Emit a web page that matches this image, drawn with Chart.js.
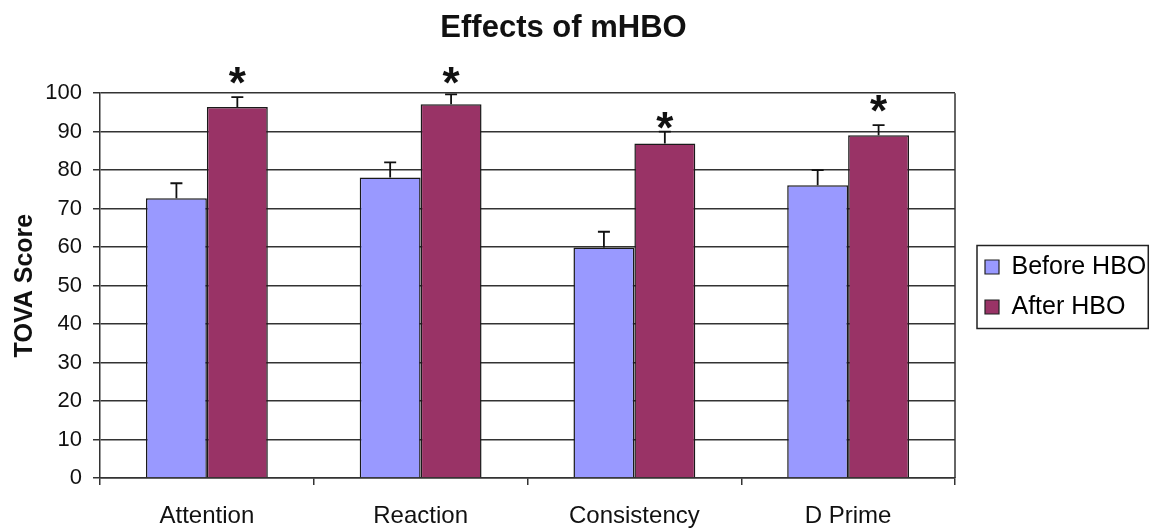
<!DOCTYPE html>
<html>
<head>
<meta charset="utf-8">
<script src="https://cdn.jsdelivr.net/npm/chart.js@4"></script>
<style>
  html, body { margin: 0; padding: 0; background: #fff; }
  #wrap { width: 1152px; height: 532px; }
</style>
</head>
<body>
<div id="wrap"><canvas id="chart"></canvas></div>
<script>
// Data
const categories = ['Attention', 'Reaction', 'Consistency', 'D Prime'];
const beforeHBO = [72.7, 78.1, 59.9, 76.1];
const afterHBO = [96.4, 97.1, 86.9, 89.1];
// upper end of the error bars
const beforeErrTop = [76.6, 82.0, 64.0, 80.0];
const afterErrTop = [99.0, 99.7, 90.0, 91.7];
// level (score units) where the significance star sits
const starLevel = [104.2, 104.2, 92.5, 96.9];
const yTicks = [0, 10, 20, 30, 40, 50, 60, 70, 80, 90, 100];

const FONT = 'Liberation Sans, Arial, sans-serif';
const LEGEND_WIDTH = 169;
const LEGEND_GAP = 15;
const LEGEND_DROP = 21;

// Error bars, stars, plot frame and legend border
const extrasPlugin = {
    id: 'extras',
    afterInit(chart) {
        // fixed legend width so the plot keeps its size
        const lg = chart.legend;
        const fit = lg.fit;
        lg.fit = function() {
            fit.call(this);
            this.width = LEGEND_WIDTH;
        };
    },
    afterLayout(chart) {
        // move the legend off the plot frame and down to the middle
        const lg = chart.legend;
        lg.left += LEGEND_GAP;
        lg.right = chart.width;
        lg.width = lg.right - lg.left;
        lg.top += LEGEND_DROP;
        lg.bottom += LEGEND_DROP;
    },
    afterDatasetsDraw(chart) {
        const ctx = chart.ctx;
        const y = chart.scales.y;
        const area = chart.chartArea;
        const errTops = [beforeErrTop, afterErrTop];

        ctx.save();
        // right frame line
        ctx.strokeStyle = '#333';
        ctx.lineWidth = 1.5;
        ctx.beginPath();
        ctx.moveTo(area.right, area.top);
        ctx.lineTo(area.right, area.bottom);
        ctx.stroke();

        // error bars
        ctx.strokeStyle = '#111';
        ctx.lineWidth = 1.8;
        chart.data.datasets.forEach((ds, i) => {
            const meta = chart.getDatasetMeta(i);
            meta.data.forEach((bar, j) => {
                const top = y.getPixelForValue(errTops[i][j]);
                ctx.beginPath();
                ctx.moveTo(bar.x, bar.y);
                ctx.lineTo(bar.x, top);
                ctx.moveTo(bar.x - 6, top);
                ctx.lineTo(bar.x + 6, top);
                ctx.stroke();
            });
        });

        // stars over the After bars
        const afterMeta = chart.getDatasetMeta(1);
        ctx.fillStyle = '#111';
        ctx.font = 'bold 44px ' + FONT;
        ctx.textAlign = 'center';
        ctx.textBaseline = 'middle';
        afterMeta.data.forEach((bar, j) => {
            ctx.fillText('*', bar.x, y.getPixelForValue(starLevel[j]) + 9);
        });

        ctx.restore();
    },
    afterDraw(chart) {
        const boxes = chart.legend && chart.legend.legendHitBoxes;
        if (!boxes || !boxes.length) return;
        const ctx = chart.ctx;
        const left = Math.min(...boxes.map(b => b.left)) - 8;
        const top = Math.min(...boxes.map(b => b.top)) - 9;
        const right = Math.max(...boxes.map(b => b.left + b.width)) + 2;
        const bottom = Math.max(...boxes.map(b => b.top + b.height)) + 9;
        ctx.save();
        ctx.strokeStyle = '#222';
        ctx.lineWidth = 1.5;
        ctx.strokeRect(left, top, right - left, bottom - top);
        ctx.restore();
    }
};

const ctx = document.getElementById('chart').getContext('2d');
window.hboChart = new Chart(ctx, {
    type: 'bar',
    data: {
        labels: categories,
        datasets: [
            {
                label: 'Before HBO',
                data: beforeHBO,
                backgroundColor: '#9999FF',
                borderColor: '#1a1a1a',
                borderWidth: 1.5
            },
            {
                label: 'After HBO',
                data: afterHBO,
                backgroundColor: '#993366',
                borderColor: '#1a1a1a',
                borderWidth: 1.5
            }
        ]
    },
    options: {
        responsive: true,
        maintainAspectRatio: false,
        animation: false,
        devicePixelRatio: 1,
        categoryPercentage: 0.57,
        barPercentage: 1.0,
        layout: {
            padding: { left: 3, right: 28, top: 0, bottom: 0 }
        },
        plugins: {
            title: {
                display: true,
                text: 'Effects of mHBO',
                color: '#111',
                font: { family: FONT, size: 31, weight: 'bold' },
                padding: { top: 10, bottom: 46 }
            },
            legend: {
                position: 'right',
                align: 'center',
                labels: {
                    color: '#111',
                    font: { family: FONT, size: 25 },
                    boxWidth: 14,
                    boxHeight: 14,
                    padding: 15,
                    generateLabels(chart) {
                        return chart.data.datasets.map((ds, i) => ({
                            text: ds.label,
                            fillStyle: ds.backgroundColor,
                            strokeStyle: '#222',
                            lineWidth: 1.2,
                            datasetIndex: i
                        }));
                    }
                }
            },
            tooltip: { enabled: false }
        },
        scales: {
            x: {
                offset: true,
                afterFit(axis) {
                    axis.height = 54;
                },
                grid: {
                    display: true,
                    offset: true,
                    drawOnChartArea: false,
                    drawTicks: true,
                    tickLength: 7,
                    color: '#333',
                    lineWidth: 1.5
                },
                border: { display: true, color: '#333', width: 1.5 },
                ticks: {
                    color: '#111',
                    font: { family: FONT, size: 24 },
                    padding: 17
                }
            },
            y: {
                min: 0,
                max: 100,
                afterBuildTicks(axis) {
                    axis.ticks = yTicks.map(v => ({ value: v }));
                },
                afterFit(axis) {
                    axis.width = 97;
                },
                grid: {
                    color: '#333',
                    lineWidth: 1.5,
                    drawTicks: true,
                    tickLength: 7
                },
                border: { display: true, color: '#333', width: 1.5 },
                ticks: {
                    color: '#111',
                    font: { family: FONT, size: 22 },
                    padding: 11
                },
                title: {
                    display: true,
                    text: 'TOVA Score',
                    color: '#111',
                    font: { family: FONT, size: 25, weight: 'bold' },
                    padding: 7
                }
            }
        }
    },
    plugins: [extrasPlugin]
});
</script>
</body>
</html>
